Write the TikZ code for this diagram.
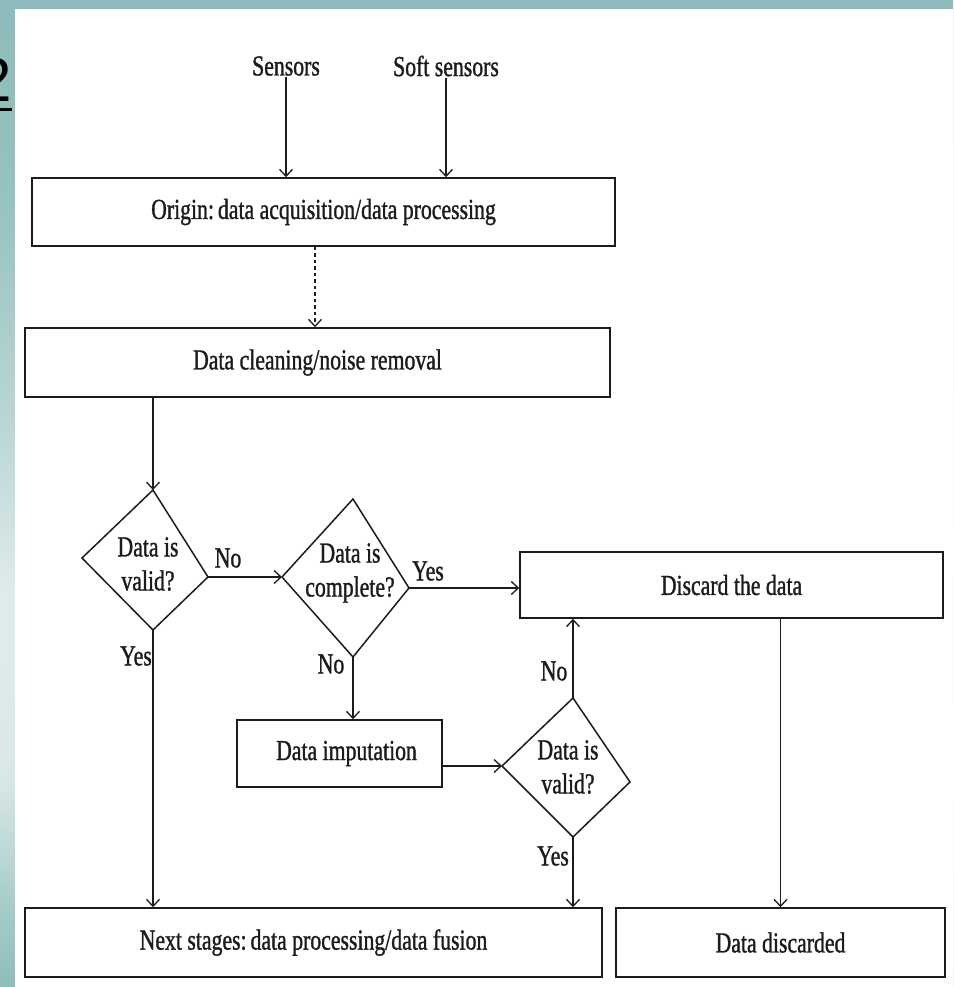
\documentclass[tikz,border=0pt]{standalone}
\usepackage{fontspec}
\setmainfont{Liberation Serif}[FakeStretch=0.75, FakeBold=1.1]
\newfontfamily\digitfont{Liberation Sans}
\usetikzlibrary{arrows.meta,calc}
\frenchspacing
\definecolor{ink}{HTML}{1C1C1C}
\definecolor{frA}{HTML}{8DBBBB}
\definecolor{frB}{HTML}{96C2C1}
\definecolor{frC}{HTML}{B9D6D5}
\definecolor{frD}{HTML}{E0ECEC}
\definecolor{frE}{HTML}{D8E8E7}
\definecolor{frF}{HTML}{A8CDCB}
\definecolor{frG}{HTML}{8EBDBB}
% frame shading: teal at both ends, pale band lower down
\pgfdeclareverticalshading{frameshade}{100bp}{%
  color(0bp)=(frG); color(25bp)=(frG); color(29.4bp)=(frF);
  color(35.5bp)=(frE); color(44.6bp)=(frD); color(53.7bp)=(frC);
  color(64.9bp)=(frB); color(75bp)=(frA); color(100bp)=(frA)}
% tight colon followed by a space
\newcommand{\tcolon}{:\kern-1.5pt\ }
\begin{document}
\begin{tikzpicture}[x=1pt,y=-1pt,
  txt/.style={font=\fontsize{29}{34}\selectfont, text=ink, inner sep=1pt},
  box/.style={draw=ink, line width=1.5pt, rectangle, inner sep=0pt,
    font=\fontsize{29}{34}\selectfont, text=ink},
  shp/.style={draw=ink, line width=1.5pt, line join=miter},
  arr/.style={draw=ink, line width=1.4pt, -{Straight Barb[length=7pt,width=13pt,line width=1.3pt]}},
  dotarr/.style={arr, dash pattern=on 3.5pt off 3pt}]
\useasboundingbox (0,0) rectangle (953,987);

% page background: shaded frame, white sheet on top
\shade[shading=frameshade] (0,0) rectangle (953,987);
\fill[white] (15,9) rectangle (953,987);
\node[anchor=east, inner sep=0pt, font=\digitfont\fontsize{62}{62}\selectfont] (pagenum) at (12,80) {2};
\draw[line width=3pt] (-20,110) -- (12,110);

% source labels
\node[txt] (sen) at (286,66) {Sensors};
\node[txt] (soft) at (446,66) {Soft sensors};

% process boxes
\node[box, minimum width=583pt, minimum height=68pt] (origin) at (323.5,212) {Origin\tcolon data acquisition/data processing};
\node[box, minimum width=585pt, minimum height=69pt] (clean) at (317.5,362.5) {Data cleaning/noise removal};
\node[box, minimum width=423pt, minimum height=66pt] (disc) at (731.5,585) {Discard the data};
\node[box, minimum width=205pt, minimum height=67pt] (imp) at (339.5,753.5) {\hspace*{14pt}Data imputation};
\node[box, minimum width=577pt, minimum height=69pt] (next) at (313.5,942.5) {Next stages\tcolon data processing/data fusion};
\node[box, minimum width=329pt, minimum height=69pt] (discd) at (780.5,942.5) {Data discarded};

% decision 1
\coordinate (d1t) at (153,490); \coordinate (d1r) at (208,577);
\coordinate (d1b) at (153,630); \coordinate (d1l) at (82,558);
\draw[shp] (d1t) -- (d1r) -- (d1b) -- (d1l) -- cycle;
\node[txt, align=center] (q1) at (148,564) {Data is\\valid?};

% decision 2
\coordinate (d2t) at (353,499); \coordinate (d2r) at (409,588);
\coordinate (d2b) at (353,657); \coordinate (d2l) at (282,577);
\draw[shp] (d2t) -- (d2r) -- (d2b) -- (d2l) -- cycle;
\node[txt, align=center] (q2) at (350,573) {Data is\\complete?};

% decision 3
\coordinate (d3t) at (573,698); \coordinate (d3r) at (630,782);
\coordinate (d3b) at (573,837); \coordinate (d3l) at (502,766);
\draw[shp] (d3t) -- (d3r) -- (d3b) -- (d3l) -- cycle;
\node[txt, align=center] (q3) at (568,767) {Data is\\valid?};

% connectors
\draw[arr] (sen.south) -- (sen.south |- origin.north);
\draw[arr] (soft.south) -- (soft.south |- origin.north);
\draw[dotarr] ([xshift=-8.5pt]origin.south) -- ([xshift=-2.5pt]clean.north);
\draw[arr] (clean.south -| d1t) -- (d1t);
\draw[arr] (d1r) -- (d2l);
\draw[arr] (d2r) -- (disc.west |- d2r);
\draw[arr] (d2b) -- (imp.north -| d2b);
\draw[arr] (imp.east |- d3l) -- (d3l);
\draw[arr] (d3t) -- (disc.south -| d3t);
\draw[arr] (d3b) -- (next.north -| d3b);
\draw[arr] (d1b) -- (next.north -| d1b);
\draw[arr] (discd.north |- disc.south) -- (discd.north);

% branch labels
\node[txt] (l1no) at (228,558) {No};
\node[txt] (l1yes) at (136,656) {Yes};
\node[txt] (l2yes) at (428,571) {Yes};
\node[txt] (l2no) at (331,664) {No};
\node[txt] (l3no) at (554,671) {No};
\node[txt] (l3yes) at (553,856) {Yes};
\end{tikzpicture}
\end{document}
